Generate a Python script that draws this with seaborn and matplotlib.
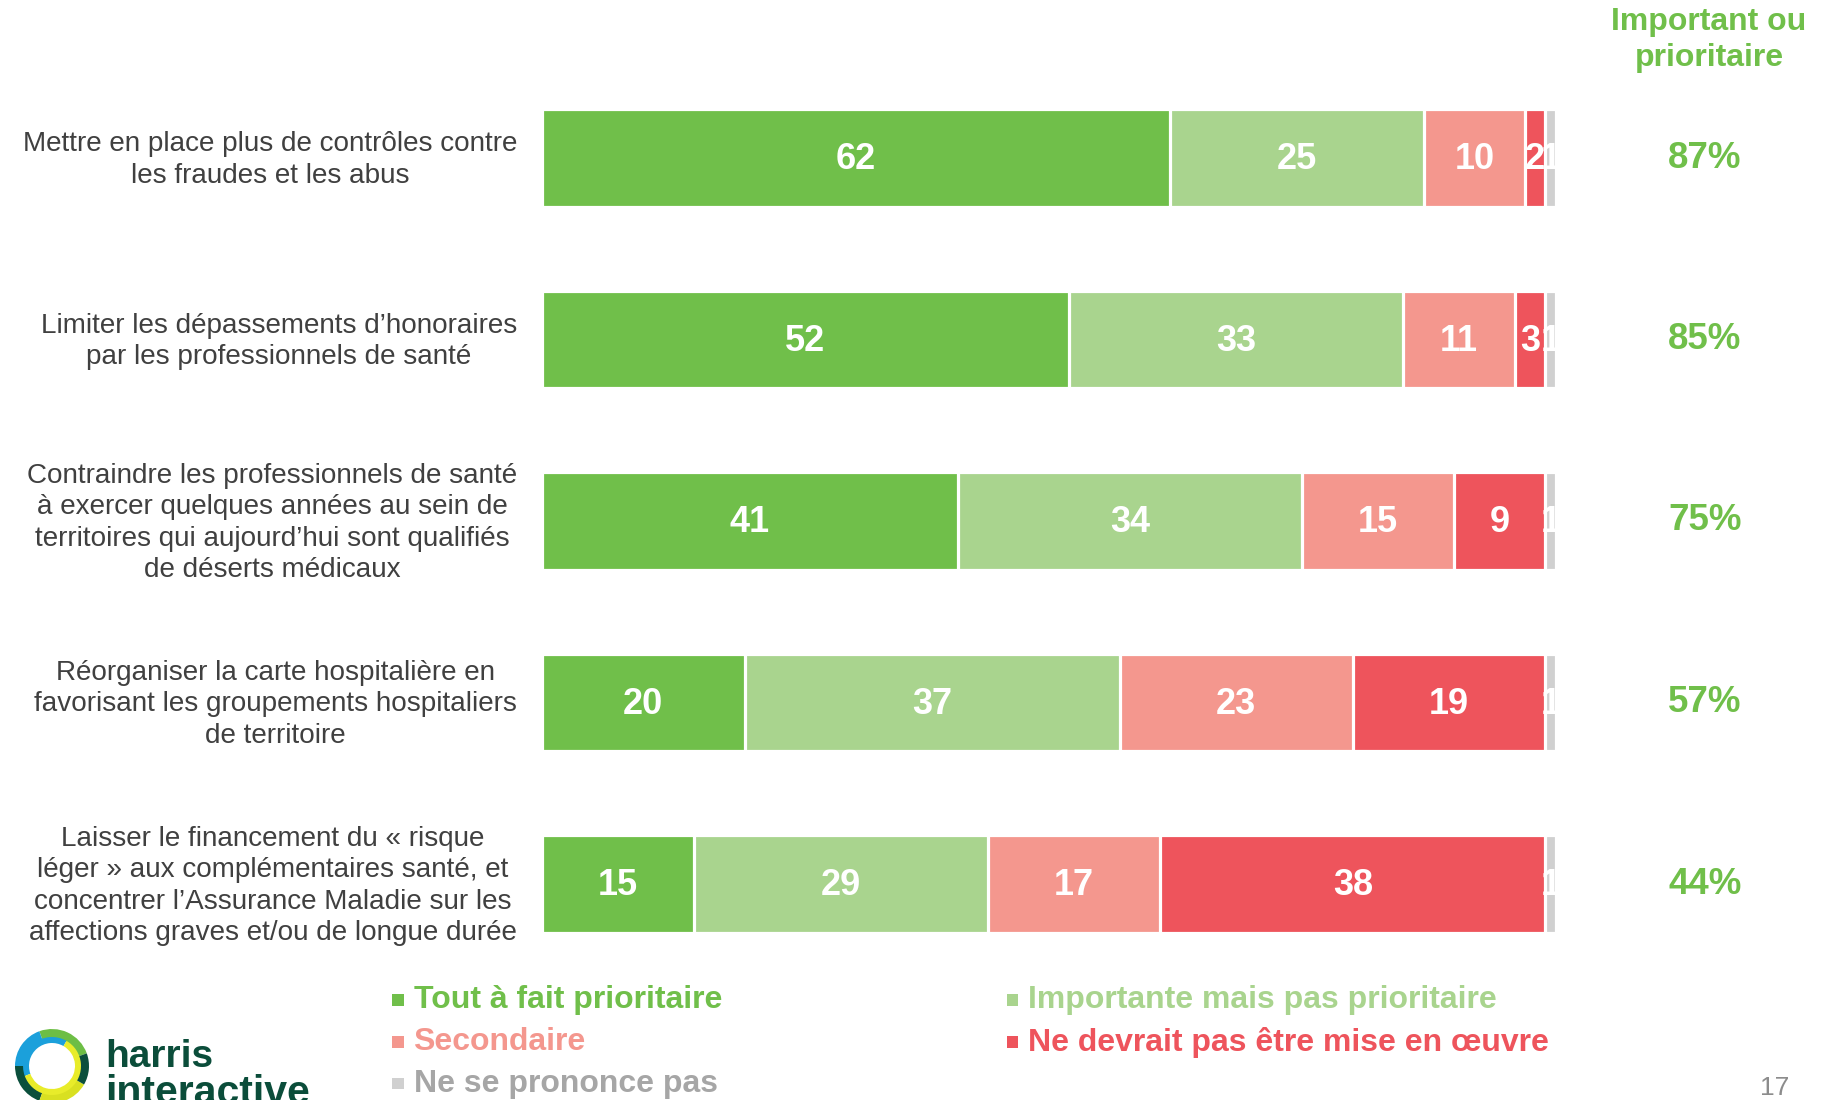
import matplotlib
matplotlib.use("Agg")
import matplotlib.pyplot as plt
from matplotlib.patches import Rectangle, Wedge
import numpy as np
import pandas as pd
import seaborn as sns

# ---------------- data ----------------
categories = [
    "Mettre en place plus de contrôles contre\nles fraudes et les abus",
    "Limiter les dépassements d’honoraires\npar les professionnels de santé",
    "Contraindre les professionnels de santé\nà exercer quelques années au sein de\nterritoires qui aujourd’hui sont qualifiés\nde déserts médicaux",
    "Réorganiser la carte hospitalière en\nfavorisant les groupements hospitaliers\nde territoire",
    "Laisser le financement du « risque\nléger » aux complémentaires santé, et\nconcentrer l’Assurance Maladie sur les\naffections graves et/ou de longue durée",
]
tout_a_fait = [62, 52, 41, 20, 15]
importante = [25, 33, 34, 37, 29]
secondaire = [10, 11, 15, 23, 17]
ne_devrait_pas = [2, 3, 9, 19, 38]
nsp = [1, 1, 1, 1, 1]
important_ou_prioritaire = [87, 85, 75, 57, 44]

series_names = ["Tout à fait prioritaire", "Importante mais pas prioritaire",
                "Secondaire", "Ne devrait pas être mise en œuvre", "Ne se prononce pas"]
series_values = [tout_a_fait, importante, secondaire, ne_devrait_pas, nsp]
colors = ["#70BF4A", "#A9D48E", "#F4978E", "#EE545C", "#D0D0D0"]
legend_text_colors = ["#70BF4A", "#A9D48E", "#F4978E", "#EE545C", "#A6A6A6"]

# ---------------- style ----------------
sns.set_theme(style="white")
plt.rcParams['font.family'] = ['Liberation Sans', 'DejaVu Sans']

W, H = 1821, 1100
fig = plt.figure(figsize=(W / 100, H / 100), dpi=100)
fig.patch.set_facecolor("white")

ax_left, ax_right = 542.0, 1555.5
ax_top, ax_bot = 67.25, 974.75
ax = fig.add_axes([ax_left / W, 1 - ax_bot / H, (ax_right - ax_left) / W, (ax_bot - ax_top) / H])

cum = np.zeros(len(categories))
cums = []
for vals in series_values:
    cum = cum + np.array(vals, dtype=float)
    cums.append(cum.copy())

for i in reversed(range(len(series_values))):
    d = pd.DataFrame({"cat": categories, "val": cums[i]})
    sns.barplot(data=d, x="val", y="cat", orient="h", color=colors[i],
                width=0.535, edgecolor="white", linewidth=2.3, saturation=1,
                ax=ax)

ax.set_xlim(0, 100)
ax.set_ylim(4.5, -0.5)
ax.axis("off")

# value labels
for i, vals in enumerate(series_values):
    starts = cums[i] - np.array(vals)
    for r, v in enumerate(vals):
        ax.text(starts[r] + v / 2, r + 0.01, f"{v}", ha="center", va="center",
                color="white", fontsize=26, fontweight="bold", clip_on=False)

px_per_unit = (ax_right - ax_left) / 100
for r, lab in enumerate(categories):
    ax.text(-(ax_left - 517) / px_per_unit, r + 0.01, lab, ha="right", va="center",
            multialignment="center", fontsize=20.1, color="#404040",
            linespacing=1.27, clip_on=False)

for r, p in enumerate(important_ou_prioritaire):
    ax.text((1705 - ax_left) / px_per_unit, r, f"{p}%", ha="center", va="center",
            fontsize=26.5, fontweight="bold", color="#70BF4A", clip_on=False)
fig.text(1709 / W, 1 - 40 / H, "Important ou\nprioritaire", ha="center", va="center",
         fontsize=23, fontweight="bold", color="#70BF4A", linespacing=1.3)

# ---------------- legend ----------------
leg_items = [
    (0, 397, 413.5, 1000),
    (2, 397, 413.5, 1042),
    (4, 397, 413.5, 1083.6),
    (1, 1011.6, 1028, 1000),
    (3, 1011.6, 1028, 1042),
]
sq = 11.5
for idx, sx, tx, cy in leg_items:
    fig.patches.append(Rectangle(((sx - sq / 2 + 1) / W, 1 - (cy + sq / 2) / H), sq / W, sq / H,
                                 transform=fig.transFigure, color=colors[idx], lw=0))
    fig.text(tx / W, 1 - cy / H, series_names[idx], ha="left", va="center",
             fontsize=23, fontweight="bold", color=legend_text_colors[idx])

# ---------------- logo ----------------
lax = fig.add_axes([0, 0, 120 / W, 120 / H])
lax.set_xlim(0, 120)
lax.set_ylim(0, 120)
lax.axis("off")
cx, cy = 52, 34
for t1, t2, c in [(20, 110, "#6DBE45"), (110, 180, "#1BA0DB"), (180, 250, "#0B4F3C"),
                  (250, 330, "#D9E021"), (330, 380, "#0B4F3C")]:
    lax.add_patch(Wedge((cx, cy), 37, t1, t2, width=9, color=c, lw=0))
for t1, t2, c in [(60, 200, "#1BA0DB"), (200, 420, "#E8EC2A")]:
    lax.add_patch(Wedge((cx, cy), 29, t1, t2, width=6, color=c, lw=0))
fig.text(105 / W, 1 - 1057 / H, "harris", ha="left", va="center",
         fontsize=28, fontweight="bold", color="#0B4D3A")
fig.text(105 / W, 1 - 1093 / H, "interactive", ha="left", va="center",
         fontsize=29.5, fontweight="bold", color="#0B4D3A")

fig.text(1775 / W, 1 - 1088 / H, "17", ha="center", va="center",
         fontsize=19, color="#8C8C8C")

fig.savefig("out.png", dpi=100, facecolor="white")
